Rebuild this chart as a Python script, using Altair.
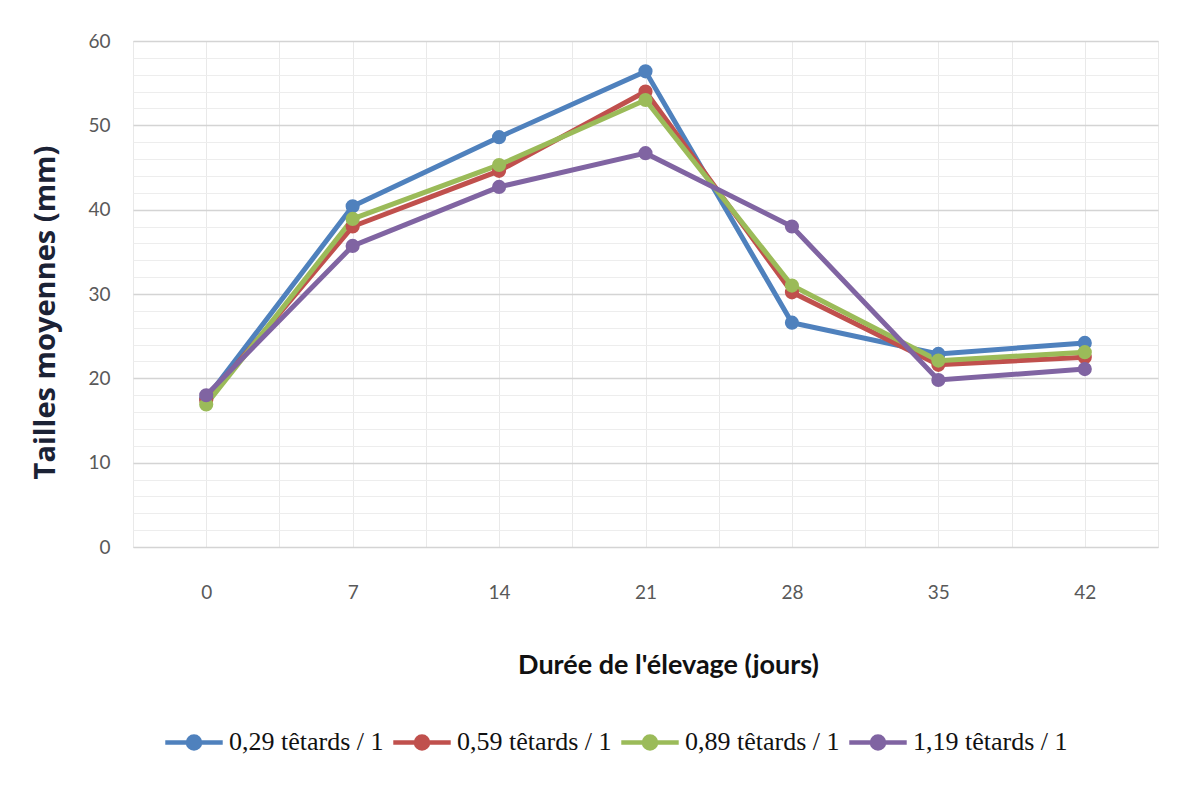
import altair as alt
import pandas as pd

days = [0, 7, 14, 21, 28, 35, 42]
series_names = ["0,29 têtards / 1", "0,59 têtards / 1", "0,89 têtards / 1", "1,19 têtards / 1"]
s029 = [17.6, 40.4, 48.6, 56.4, 26.6, 22.9, 24.2]
s059 = [17.4, 38.0, 44.6, 54.0, 30.2, 21.6, 22.5]
s089 = [16.9, 38.9, 45.3, 53.0, 31.0, 22.1, 23.1]
s119 = [18.0, 35.7, 42.7, 46.7, 38.0, 19.8, 21.1]
colors = ["#4F81BD", "#C0504D", "#9BBB59", "#8064A2"]

x_grid_values = [-3.5 + 3.5 * i for i in range(15)]
y_grid_values = list(range(0, 61, 2))

rows = []
for name, vals in zip(series_names, [s029, s059, s089, s119]):
    for d, v in zip(days, vals):
        rows.append({"jour": d, "taille": v, "serie": name})
df = pd.DataFrame(rows)

legend_symbol = (
    "M-1,0 L1,0 "
    "M-0.06,0 A0.06,0.06 0 1,0 0.06,0 A0.06,0.06 0 1,0 -0.06,0 "
    "M-0.14,0 A0.14,0.14 0 1,0 0.14,0 A0.14,0.14 0 1,0 -0.14,0 "
    "M-0.21,0 A0.21,0.21 0 1,0 0.21,0 A0.21,0.21 0 1,0 -0.21,0"
)

chart = alt.Chart(df).mark_line(
    strokeWidth=5,
    point=alt.OverlayMarkDef(filled=True, size=200, opacity=1),
).encode(
    x=alt.X(
        "jour:Q",
        scale=alt.Scale(domain=[-3.5, 45.5], nice=False, zero=False),
        axis=alt.Axis(
            values=x_grid_values,
            labelExpr="datum.value % 7 == 0 ? datum.label : ''",
            title="Durée de l'élevage (jours)",
            grid=True,
            gridColor="#e9e9e9",
            gridWidth=1,
            ticks=False,
            domain=False,
            labelPadding=36,
            labelFont="Lato",
            labelFontSize=19,
            labelColor="#595959",
            titleFont="Lato",
            titleFontSize=27,
            titleFontWeight="bold",
            titleColor="#111111",
            titleX=535,
            titleY=118,
            titleBaseline="middle",
            titleAlign="center",
        ),
    ),
    y=alt.Y(
        "taille:Q",
        scale=alt.Scale(domain=[0, 60], nice=False),
        axis=alt.Axis(
            values=y_grid_values,
            labelExpr="datum.value % 10 == 0 ? datum.label : ''",
            title="Tailles moyennes (mm)",
            grid=True,
            gridColor={"condition": {"test": "datum.value % 10 == 0", "value": "#d4d4d4"}, "value": "#ededed"},
            gridWidth={"condition": {"test": "datum.value % 10 == 0", "value": 1.6}, "value": 1},
            ticks=False,
            domain=False,
            labelPadding=23,
            labelFont="Lato",
            labelFontSize=19,
            labelColor="#595959",
            titleFont="Open Sans",
            titleFontSize=29,
            titleFontWeight="bold",
            titleColor="#1b2235",
            titleX=-88,
            titleY=271,
            titleAngle=270,
            titleBaseline="middle",
            titleAlign="center",
        ),
    ),
    color=alt.Color(
        "serie:N",
        scale=alt.Scale(domain=series_names, range=colors),
        legend=alt.Legend(
            title=None,
            orient="none",
            direction="horizontal",
            legendX=30,
            legendY=670,
            symbolType=legend_symbol,
            symbolSize=3300,
            symbolStrokeWidth=4.5,
            labelFont="Liberation Serif",
            labelFontSize=26,
            labelColor="#111111",
            labelOffset=4,
            columnPadding=0,
            labelLimit=300,
        ),
    ),
    order=alt.Order("jour:Q"),
).properties(
    width=1025,
    height=506,
    autosize=alt.AutoSizeParams(type="none"),
    padding={"left": 125, "top": 33, "right": 16, "bottom": 232},
).configure_view(stroke=None).configure(background="white")

chart.save("out.html", embed_options={"renderer": "svg", "actions": False})
